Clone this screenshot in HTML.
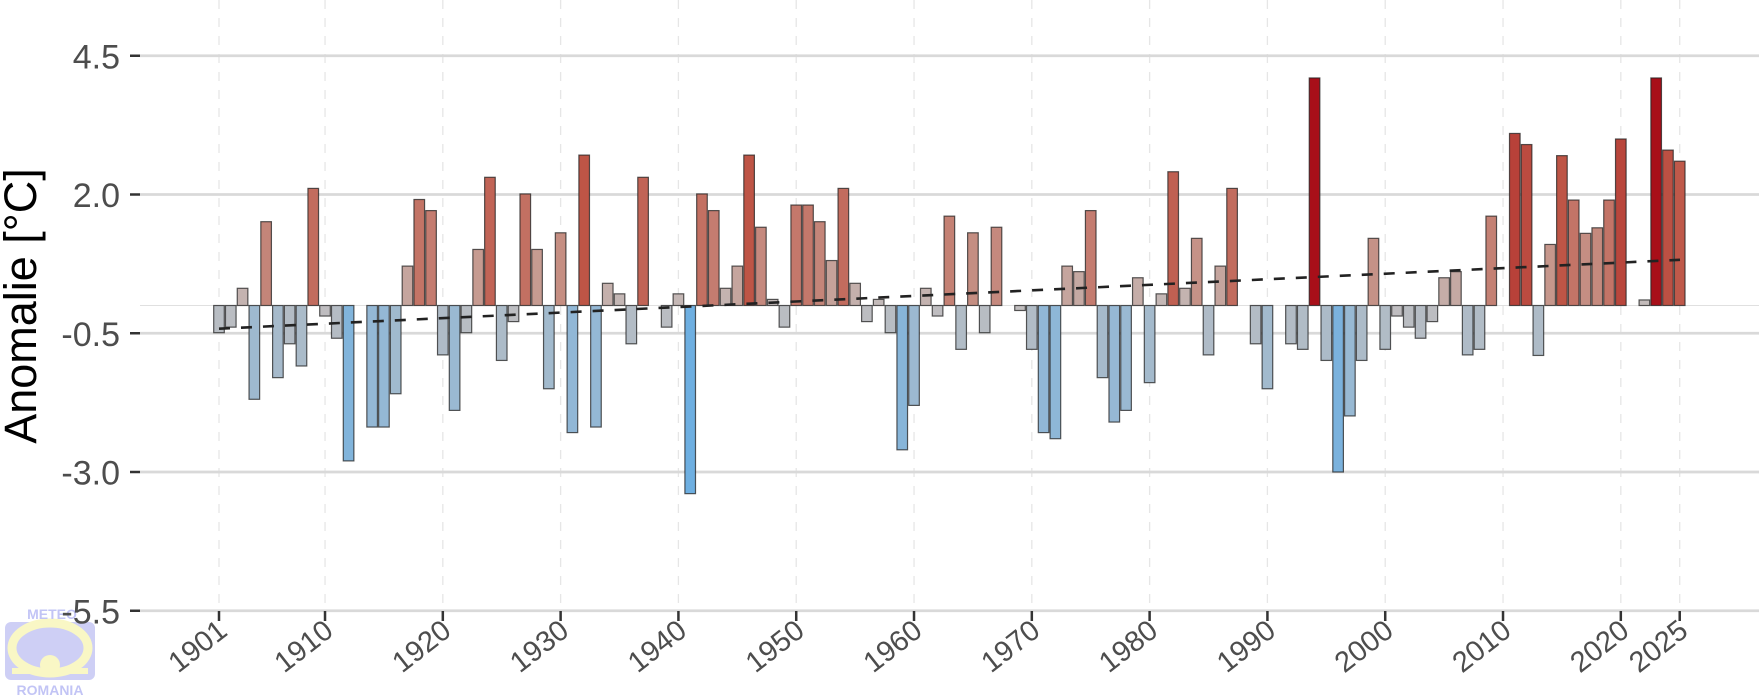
<!DOCTYPE html>
<html><head><meta charset="utf-8"><style>
html,body{margin:0;padding:0;background:#fff;width:1759px;height:695px;overflow:hidden}
svg{display:block}
text{font-family:"Liberation Sans",Arial,sans-serif}
</style></head><body>
<svg id="s" width="1759" height="695" viewBox="0 0 1759 695" xmlns="http://www.w3.org/2000/svg">
<g id="grid"></g>
<g id="bars"></g>
<line x1="219" y1="328.7" x2="1680" y2="259.8" stroke="#222" stroke-width="2.6" stroke-dasharray="11,11"/>
<g opacity="0.6">
<rect x="5" y="622" width="90" height="58" rx="6" fill="#aeb0f0"/>
<ellipse cx="50" cy="648" rx="38" ry="25" fill="none" stroke="#f6f3a0" stroke-width="9"/>
<circle cx="50" cy="665" r="10" fill="#f6f3a0"/>
<rect x="12" y="668" width="76" height="6" fill="#f6f3a0"/>
<text x="52" y="619" text-anchor="middle" font-size="14" font-weight="bold" fill="#9a9ef0">METEO</text>
<text x="50" y="695" text-anchor="middle" font-size="14" font-weight="bold" fill="#9a9ef0">ROMANIA</text>
</g>
<g id="axes"></g>
<text transform="translate(36,306) rotate(-90)" text-anchor="middle" font-size="45" fill="#000">Anomalie [°C]</text>
</svg>
<script>
var v={1901:-0.49,1902:-0.39,1903:0.31,1904:-1.69,1905:1.51,1906:-1.3,1907:-0.69,1908:-1.09,1909:2.11,1910:-0.19,
1911:-0.59,1912:-2.8,1913:0,1914:-2.19,1915:-2.19,1916:-1.59,1917:0.71,1918:1.91,1919:1.71,1920:-0.89,
1921:-1.89,1922:-0.49,1923:1.01,1924:2.31,1925:-0.99,1926:-0.29,1927:2.01,1928:1.01,1929:-1.5,1930:1.31,
1931:-2.29,1932:2.71,1933:-2.19,1934:0.4,1935:0.21,1936:-0.69,1937:2.31,1938:0,1939:-0.39,1940:0.21,
1941:-3.39,1942:2.01,1943:1.71,1944:0.31,1945:0.71,1946:2.71,1947:1.41,1948:0.11,1949:-0.39,1950:1.81,
1951:1.81,1952:1.51,1953:0.81,1954:2.11,1955:0.4,1956:-0.29,1957:0.11,1958:-0.49,1959:-2.6,1960:-1.8,
1961:0.31,1962:-0.19,1963:1.61,1964:-0.79,1965:1.31,1966:-0.49,1967:1.41,1968:0,1969:-0.09,1970:-0.79,
1971:-2.29,1972:-2.4,1973:0.71,1974:0.61,1975:1.71,1976:-1.3,1977:-2.1,1978:-1.89,1979:0.5,1980:-1.39,
1981:0.21,1982:2.41,1983:0.31,1984:1.21,1985:-0.89,1986:0.71,1987:2.11,1988:0,1989:-0.69,1990:-1.5,
1991:0,1992:-0.69,1993:-0.79,1994:4.1,1995:-0.99,1996:-3.0,1997:-1.99,1998:-0.99,1999:1.21,2000:-0.79,
2001:-0.19,2002:-0.39,2003:-0.59,2004:-0.29,2005:0.5,2006:0.61,2007:-0.89,2008:-0.79,2009:1.61,2010:0,
2011:3.1,2012:2.9,2013:-0.9,2014:1.1,2015:2.7,2016:1.9,2017:1.3,2018:1.4,2019:1.9,2020:3.0,
2021:0,2022:0.1,2023:4.1,2024:2.8,2025:2.6};
var stops=[[-3.4,[110,175,225]],[-2.2,[148,184,213]],[-1.0,[172,187,200]],[0,[195,190,190]],[1.0,[198,155,145]],[2.0,[195,112,98]],[2.7,[190,85,70]],[4.1,[168,15,25]]];
function col(x){if(x<=stops[0][0])return stops[0][1];for(var i=1;i<stops.length;i++){if(x<=stops[i][0]){var a=stops[i-1],b=stops[i],t=(x-a[0])/(b[0]-a[0]);return a[1].map(function(c,k){return Math.round(c+(b[1][k]-c)*t)});}}return stops[stops.length-1][1];}
var NS="http://www.w3.org/2000/svg";
function el(p,n,a){var e=document.createElementNS(NS,n);for(var k in a)e.setAttribute(k,a[k]);p.appendChild(e);return e;}
var X=function(y){return 219+(y-1901)*11.78;};
var Y=function(val){return 305.5-val*55.5;};
var g=document.getElementById('grid'),b=document.getElementById('bars'),ax=document.getElementById('axes');
var yrs=[1901,1910,1920,1930,1940,1950,1960,1970,1980,1990,2000,2010,2020,2025];
yrs.forEach(function(y){el(g,'line',{x1:X(y),x2:X(y),y1:0,y2:611,stroke:'#e6e6e6','stroke-width':1.3,'stroke-dasharray':'9,9'});});
[4.5,2.0,-0.5,-3.0,-5.5].forEach(function(t){var yy=Y(t);el(g,'line',{x1:140,x2:1759,y1:yy,y2:yy,stroke:'#d9d9d9','stroke-width':2.8});
el(ax,'line',{x1:130,x2:140,y1:yy,y2:yy,stroke:'#333','stroke-width':2.5});
var tx=el(ax,'text',{x:120,y:yy+12.5,'text-anchor':'end','font-size':34,fill:'#4d4d4d'});tx.textContent=t.toFixed(1);});
el(g,'line',{x1:140,x2:1759,y1:305.5,y2:305.5,stroke:'#e0e0e0','stroke-width':1});
for(var y=1901;y<=2025;y++){var val=v[y];if(Math.abs(val)<0.02)continue;var c=col(val);var y0=Y(Math.max(val,0)),h=Math.abs(val)*55.5;
el(b,'rect',{x:X(y)-5.3,y:y0,width:10.6,height:h,fill:'rgb('+c.join(',')+')',stroke:'#222','stroke-opacity':0.75,'stroke-width':1.2});}
yrs.forEach(function(y){var x=X(y);el(ax,'line',{x1:x,x2:x,y1:611,y2:621,stroke:'#333','stroke-width':2.5});
var t=el(ax,'text',{transform:'translate('+(x+10)+',634) rotate(-38)','text-anchor':'end','font-size':29,fill:'#4d4d4d'});t.textContent=y;});
</script>
</body></html>
